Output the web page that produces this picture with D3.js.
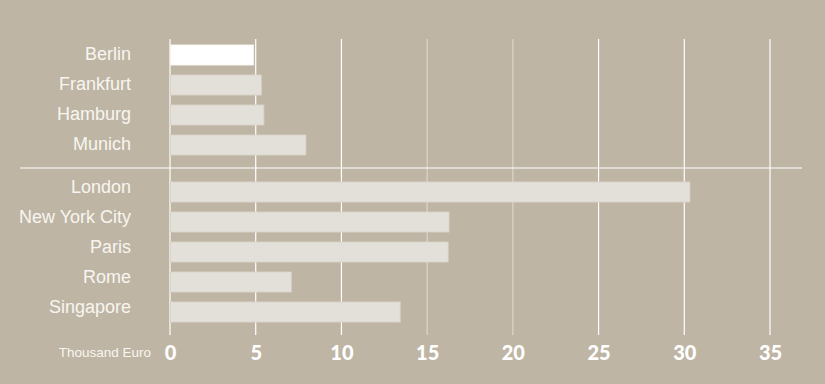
<!DOCTYPE html>
<html>
<head>
<meta charset="utf-8">
<style>
  body { margin: 0; background: #bfb5a4; }
  svg { display: block; }
</style>
</head>
<body>
<div id="chart"></div>
<script src="https://cdn.jsdelivr.net/npm/d3@7"></script>
<script>
// values in thousand euro
var germanCities = ['Berlin', 'Frankfurt', 'Hamburg', 'Munich'];
var germanValues = [4.85, 5.3, 5.45, 7.9];
var worldCities = ['London', 'New York City', 'Paris', 'Rome', 'Singapore'];
var worldValues = [30.3, 16.25, 16.2, 7.05, 13.4];
var xTicks = [0, 5, 10, 15, 20, 25, 30, 35];
var unitLabel = 'Thousand Euro';

var width = 825, height = 384;

var svg = d3.select('#chart').append('svg')
    .attr('width', width)
    .attr('height', height);

svg.append('rect')
    .attr('width', width).attr('height', height)
    .attr('fill', '#bfb5a4');

var x = d3.scaleLinear().domain([0, 35]).range([170, 770]);

var yGerman = d3.scaleBand().domain(germanCities).range([40, 160]).paddingInner(0.33).paddingOuter(0.165);
var yWorld = d3.scaleBand().domain(worldCities).range([177, 327]).paddingInner(0.33).paddingOuter(0.165);

// grid lines
svg.append('g').selectAll('line')
    .data(xTicks)
    .join('line')
    .attr('x1', function(d){ return x(d); })
    .attr('x2', function(d){ return x(d); })
    .attr('y1', 39)
    .attr('y2', 335)
    .attr('stroke', '#ffffff')
    .attr('stroke-width', 1.2)
    .attr('stroke-opacity', function(d){ return (d == 15 || d == 20) ? 0.45 : 1; });

// separator
svg.append('line')
    .attr('x1', 20).attr('x2', 802)
    .attr('y1', 168).attr('y2', 168)
    .attr('stroke', '#ffffff')
    .attr('stroke-width', 1.2);

function drawGroup(names, values, y, highlight, labelShift){
    var data = names.map(function(n, i){ return {name: n, value: values[i]}; });
    svg.append('g').selectAll('rect')
        .data(data)
        .join('rect')
        .attr('x', x(0) + 0.5)
        .attr('y', function(d){ return y(d.name); })
        .attr('width', function(d){ return x(d.value) - x(0); })
        .attr('height', y.bandwidth())
        .attr('fill', function(d){ return d.name == highlight ? '#ffffff' : '#e3dfd9'; })
        .attr('stroke', function(d){ return d.name == highlight ? '#f4f2ee' : '#d6d0c6'; })
        .attr('stroke-width', 0.8);

    svg.append('g').selectAll('text')
        .data(data)
        .join('text')
        .attr('x', 131)
        .attr('y', function(d){ return y(d.name) + y.bandwidth() / 2 + labelShift; })
        .attr('dy', '0.35em')
        .attr('text-anchor', 'end')
        .attr('font-family', 'Liberation Sans, Arial, sans-serif')
        .attr('font-size', 18)
        .attr('fill', '#f7f5f1')
        .text(function(d){ return d.name; });
}

drawGroup(germanCities, germanValues, yGerman, 'Berlin', -1.5);
drawGroup(worldCities, worldValues, yWorld, null, -5.5);

// axis labels
var axis = d3.axisBottom(x).tickValues(xTicks).tickSize(0).tickPadding(0);
var ax = svg.append('g')
    .attr('transform', 'translate(0,346)')
    .call(axis);
ax.select('.domain').remove();
ax.selectAll('text')
    .attr('font-family', 'Lato, "DejaVu Sans", sans-serif')
    .attr('font-weight', 900)
    .attr('font-size', 20)
    .attr('fill', '#ffffff');

svg.append('text')
    .attr('x', 151)
    .attr('y', 357)
    .attr('text-anchor', 'end')
    .attr('font-family', 'Liberation Sans, Arial, sans-serif')
    .attr('font-size', 13.5)
    .attr('fill', '#f7f5f1')
    .text(unitLabel);
</script>
</body>
</html>
